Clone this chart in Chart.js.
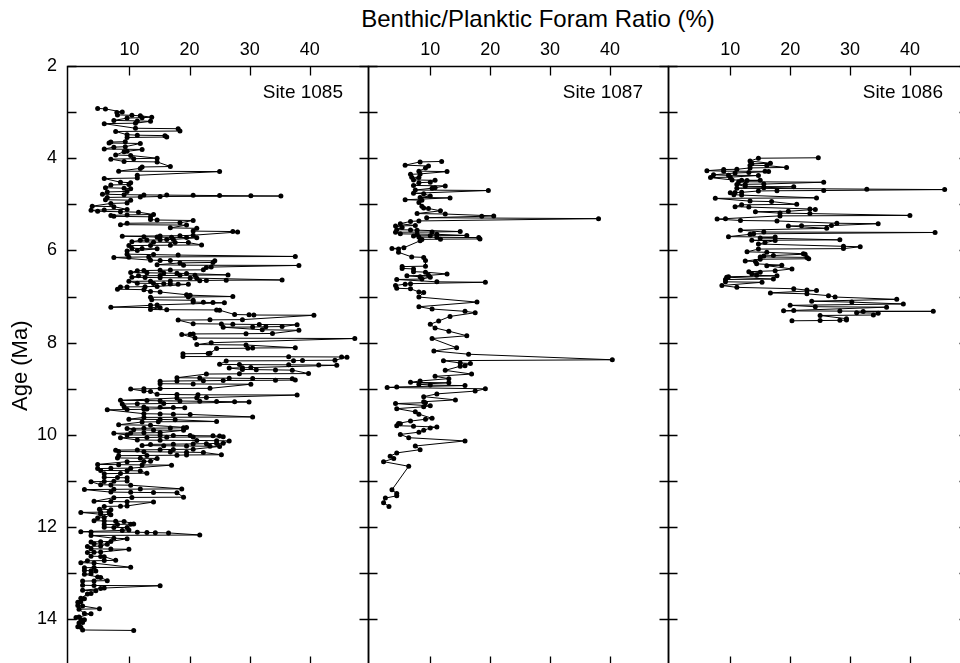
<!DOCTYPE html>
<html>
<head>
<meta charset="utf-8">
<script src="https://cdn.jsdelivr.net/npm/chart.js@4.4.1/dist/chart.umd.min.js"></script>
<style>
  html, body { margin: 0; padding: 0; background: #fff; }
  #wrap { position: relative; width: 960px; height: 663px; overflow: hidden; }
  .panel { position: absolute; top: 0; height: 668px; }
  #title { position: absolute; left: 338px; width: 400px; top: 7px; text-align: center;
           font: 24px "Liberation Sans", Arial, Helvetica, sans-serif; line-height: 1; color: #000; }
</style>
</head>
<body>
<div id="wrap">
  <div id="title">Benthic/Planktic Foram Ratio (%)</div>
  <div class="panel" style="left:0;width:372px"><canvas id="c1085"></canvas></div>
  <div class="panel" style="left:364px;width:308px"><canvas id="c1087"></canvas></div>
  <div class="panel" style="left:664px;width:308px"><canvas id="c1086"></canvas></div>
</div>
<script>
// ticks
const ratioTicks = [10, 20, 30, 40];
const ageTicks = [2, 3, 4, 5, 6, 7, 8, 9, 10, 11, 12, 13, 14, 15];
const ageLabels = [2, 4, 6, 8, 10, 12, 14];
const siteNames = ['Site 1085', 'Site 1087', 'Site 1086'];

// [age (Ma), B/P ratio (%)], in age order
const site1085 = [
 [2.92,4.7],[2.93,6.0],[3.00,8.8],[3.01,7.9],[3.06,8.0],[3.07,10.4],[3.08,11.8],
 [3.11,13.7],[3.12,12.1],[3.13,9.6],[3.18,7.4],[3.19,11.3],[3.20,13.5],[3.24,11.0],[3.25,5.8],
 [3.35,11.0],[3.36,18.1],[3.41,18.4],[3.42,7.7],[3.49,9.6],[3.50,11.3],[3.51,15.9],
 [3.54,16.2],[3.55,9.6],[3.64,9.3],[3.65,6.9],[3.67,6.6],[3.68,11.8],[3.75,9.3],[3.76,7.4],
 [3.80,5.8],[3.81,12.1],[3.85,9.6],[3.86,9.1],[3.93,7.7],[3.94,10.2],
 [4.00,14.6],[4.01,10.7],[4.02,6.9],[4.07,9.1],[4.08,14.6],[4.18,16.8],[4.19,12.1],[4.22,11.8],
 [4.28,8.2],[4.29,25.0],[4.37,11.3],[4.43,11.3],[4.44,5.8],[4.52,8.5],[4.53,10.2],
 [4.57,9.9],[4.58,6.9],[4.64,6.0],[4.65,9.1],[4.66,10.2],[4.72,9.6],[4.73,6.3],
 [4.78,5.5],[4.79,9.1],[4.795,12.4],[4.80,16.2],[4.805,20.6],[4.81,25.0],[4.815,30.2],[4.82,35.2],
 [4.83,15.1],[4.84,11.8],[4.85,6.3],[4.90,6.0],[4.91,10.2],[4.97,9.6],[4.98,6.9],
 [5.04,3.8],[5.05,7.4],[5.11,9.6],[5.12,5.8],[5.13,3.6],[5.15,4.7],[5.16,8.5],[5.17,11.5],
 [5.22,14.0],[5.23,9.6],[5.24,6.9],[5.26,7.4],[5.27,13.5],[5.33,13.5],[5.34,14.6],[5.35,20.6],
 [5.40,18.4],[5.41,9.6],[5.44,8.5],[5.45,19.5],[5.51,16.8],[5.52,21.2],
 [5.58,20.6],[5.59,27.2],[5.60,28.0],
 [5.67,20.6],[5.68,18.4],[5.685,15.1],[5.69,8.8],
 [5.70,12.4],[5.71,14.6],[5.715,17.0],[5.72,19.5],[5.725,21.2],
 [5.76,17.3],[5.765,16.2],[5.77,15.1],[5.775,12.9],[5.78,11.8],
 [5.81,10.4],[5.82,14.0],[5.825,17.6],[5.83,19.8],
 [5.88,22.0],[5.885,16.8],[5.89,13.5],[5.895,9.9],
 [5.95,10.4],[5.96,12.1],[5.965,14.6],[6.00,11.3],[6.01,9.6],
 [6.08,9.6],[6.09,14.0],[6.10,18.1],[6.13,37.6],[6.14,13.2],[6.145,9.9],[6.15,7.4],
 [6.21,13.5],[6.215,15.1],[6.22,16.8],[6.225,24.2],[6.26,23.9],[6.27,18.4],
 [6.31,14.6],[6.32,19.0],[6.325,38.2],[6.36,23.6],[6.37,22.8],
 [6.42,22.3],[6.425,16.8],[6.43,15.1],[6.435,12.4],[6.44,11.3],
 [6.48,10.2],[6.485,12.9],[6.49,15.7],[6.495,17.9],[6.50,19.5],
 [6.53,26.4],[6.535,20.9],[6.54,18.4],[6.545,15.1],[6.55,11.5],
 [6.58,10.4],[6.585,12.6],[6.59,15.1],[6.595,20.1],[6.60,21.2],
 [6.64,35.4],[6.645,26.1],[6.65,22.8],[6.655,21.7],[6.66,16.8],[6.665,13.5],[6.67,9.9],
 [6.71,11.3],[6.715,14.0],[6.72,15.7],[6.725,16.8],[6.73,18.1],[6.735,19.8],
 [6.78,14.6],[6.785,12.6],[6.79,9.6],[6.795,8.5],[6.84,8.0],[6.85,12.4],
 [6.89,13.5],[6.90,15.1],[6.96,19.5],[6.97,20.1],[7.00,27.2],[7.01,19.8],[7.015,13.5],
 [7.07,13.7],[7.08,20.6],[7.12,20.6],[7.125,22.3],[7.13,23.9],[7.135,25.8],
 [7.18,14.6],[7.19,13.5],[7.23,6.9],[7.24,15.1],
 [7.28,13.5],[7.285,16.2],[7.29,24.5],[7.295,25.0],
 [7.39,27.5],[7.395,29.9],[7.40,30.7],[7.405,40.7],
 [7.50,28.8],[7.505,23.4],[7.51,18.1],
 [7.59,20.6],[7.595,25.3],[7.60,27.2],[7.605,31.6],[7.61,37.9],
 [7.65,35.4],[7.655,32.7],[7.66,30.5],[7.665,25.6],[7.72,32.1],[7.73,38.2],
 [7.80,33.8],[7.805,29.4],[7.81,20.6],[7.815,20.1],[7.82,18.7],
 [7.90,20.9],[7.91,47.5],[8.00,23.6],[8.04,21.2],[8.05,29.4],
 [8.11,37.6],[8.115,30.5],[8.12,29.7],[8.125,24.5],
 [8.23,23.4],[8.235,23.1],[8.24,18.9],
 [8.30,18.9],[8.305,36.5],[8.31,45.3],[8.315,46.2],
 [8.38,44.2],[8.385,38.8],[8.39,37.3],[8.395,26.1],
 [8.47,25.0],[8.475,28.3],[8.48,36.5],[8.485,41.5],[8.49,44.5],
 [8.54,30.2],[8.545,28.8],[8.55,26.6],
 [8.58,28.8],[8.585,31.1],[8.59,34.3],[8.595,37.1],
 [8.67,39.8],[8.675,28.3],[8.68,22.8],
 [8.76,17.9],[8.765,21.7],[8.77,26.6],[8.775,30.5],[8.78,37.1],
 [8.81,37.6],[8.815,34.3],[8.82,25.6],[8.825,22.3],[8.83,17.9],[8.835,15.1],
 [8.89,15.1],[8.895,20.6],[8.90,30.2],
 [8.99,23.4],[8.995,15.1],[9.00,12.4],[9.005,10.2],[9.05,12.4],[9.06,13.5],
 [9.12,14.6],[9.125,17.9],[9.13,21.4],[9.135,37.9],[9.19,22.8],[9.195,21.2],[9.20,17.9],
 [9.25,8.5],[9.255,12.9],[9.26,15.1],[9.265,18.4],[9.27,21.7],[9.275,24.5],[9.28,27.5],[9.285,29.9],
 [9.32,15.7],[9.325,11.3],[9.33,8.8],
 [9.39,9.1],[9.395,12.4],[9.40,15.1],[9.405,17.3],[9.41,19.2],
 [9.44,12.9],[9.445,12.4],[9.45,9.6],[9.455,6.3],
 [9.54,12.4],[9.545,15.1],[9.55,17.3],[9.555,20.1],[9.61,30.5],[9.62,12.4],
 [9.66,9.9],[9.665,15.1],[9.67,17.6],[9.71,24.5],[9.715,14.8],[9.72,12.1],
 [9.78,8.2],[9.79,13.5],[9.84,19.5],[9.845,19.0],[9.85,16.8],[9.855,12.4],[9.86,9.6],
 [9.89,10.7],[9.895,14.0],[9.90,19.0],[9.95,15.1],[9.955,12.4],[9.96,10.2],[9.965,7.4],
 [10.00,9.6],[10.005,15.1],[10.01,17.3],[10.015,20.1],[10.02,23.9],[10.025,25.0],
 [10.04,25.6],[10.045,20.6],[10.05,16.2],[10.055,12.9],[10.06,8.5],
 [10.11,11.3],[10.115,15.1],[10.12,21.2],[10.125,24.5],[10.13,26.6],
 [10.18,25.6],[10.185,24.5],[10.19,22.8],[10.195,20.6],[10.20,17.3],[10.205,13.5],
 [10.23,12.1],[10.235,15.7],[10.24,19.5],[10.245,23.4],[10.25,25.0],
 [10.31,20.6],[10.315,17.3],[10.32,15.1],[10.325,11.3],[10.33,7.7],
 [10.36,8.2],[10.365,12.4],[10.37,16.8],[10.375,19.5],[10.38,22.3],
 [10.43,25.3],[10.435,19.5],[10.44,17.9],[10.445,12.9],[10.45,8.2],
 [10.50,8.0],[10.505,11.8],[10.51,14.6],[10.57,13.5],[10.575,12.4],[10.58,9.6],
 [10.64,4.7],[10.645,8.2],[10.65,12.1],[10.655,17.0],[10.72,10.2],[10.725,6.9],[10.73,4.7],
 [10.77,5.2],[10.775,9.6],[10.78,11.8],[10.83,12.9],[10.835,8.5],[10.84,5.8],
 [10.92,5.8],[10.925,8.0],[10.93,9.6],[11.00,9.6],[11.005,7.4],[11.01,5.8],[11.015,3.6],
 [11.08,5.2],[11.085,6.9],[11.09,10.2],[11.17,18.7],[11.175,11.8],[11.18,7.4],[11.185,2.5],
 [11.24,6.9],[11.245,10.2],[11.25,14.0],[11.255,17.9],[11.35,19.0],[11.355,10.4],[11.36,7.4],
 [11.44,4.1],[11.445,6.9],[11.45,9.6],[11.455,14.0],[11.54,9.6],[11.545,8.5],[11.55,5.8],
 [11.61,5.0],[11.62,6.9],[11.67,6.6],[11.675,5.2],[11.68,1.9],[11.72,5.2],[11.73,6.9],
 [11.79,5.8],[11.80,4.7],[11.86,4.1],[11.865,5.8],[11.87,7.7],[11.875,9.1],
 [11.93,10.7],[11.935,10.2],[11.94,8.0],[11.945,5.8],[12.00,5.8],[12.005,7.4],[12.01,9.6],
 [12.06,9.9],[12.07,8.8],[12.10,1.9],[12.105,3.6],[12.11,11.3],[12.115,12.9],[12.12,14.3],[12.125,16.5],
 [12.17,21.7],[12.18,3.6],[12.24,7.4],[12.25,9.6],[12.31,6.9],[12.315,5.2],[12.32,3.6],
 [12.36,4.1],[12.37,6.3],[12.41,5.2],[12.42,3.0],[12.47,3.6],[12.475,6.9],[12.48,9.9],
 [12.54,5.2],[12.545,4.1],[12.55,3.0],[12.63,3.6],[12.635,5.2],[12.64,5.8],
 [12.72,7.7],[12.725,5.8],[12.73,3.0],[12.77,1.9],[12.78,4.1],
 [12.87,10.2],[12.875,4.1],[12.88,2.5],[12.94,2.5],[12.945,3.6],[12.95,4.4],
 [13.01,3.6],[13.02,2.5],[13.08,4.7],[13.09,5.2],[13.16,6.3],[13.165,4.1],[13.17,2.2],
 [13.26,2.2],[13.265,4.1],[13.27,15.1],[13.32,5.8],[13.33,5.2],[13.37,2.2],[13.38,4.4],
 [13.44,3.6],[13.45,3.0],[13.54,1.9],[13.55,2.5],[13.62,1.9],[13.63,1.4],
 [13.70,1.4],[13.71,2.2],[13.77,5.0],[13.78,1.6],[13.87,2.5],[13.88,3.6],
 [13.95,1.6],[13.96,1.1],[14.00,1.9],[14.01,2.5],[14.07,2.2],[14.08,1.6],
 [14.16,1.4],[14.17,1.9],[14.23,2.2],[14.24,10.7]
];

const site1087 = [
 [4.07,11.9],[4.08,8.3],[4.15,5.8],[4.17,9.7],[4.21,9.2],
 [4.28,8.1],[4.29,12.8],[4.34,8.3],[4.35,6.7],[4.41,6.9],[4.42,8.1],[4.47,7.2],[4.48,10.8],
 [4.52,10.0],[4.53,8.1],[4.59,7.2],[4.60,12.5],[4.64,10.8],[4.65,10.3],[4.69,7.5],[4.70,19.7],
 [4.76,7.2],[4.77,8.9],[4.82,10.0],[4.85,8.3],[4.86,13.3],[4.90,5.8],[4.91,8.6],[4.96,8.1],
 [5.04,8.6],[5.08,8.9],[5.09,9.7],[5.14,11.7],[5.20,7.8],[5.21,12.5],[5.25,20.6],[5.26,18.6],
 [5.29,9.4],[5.31,38.1],[5.36,8.1],[5.37,6.7],[5.42,5.0],[5.46,7.5],[5.47,4.2],[5.50,5.3],
 [5.55,4.4],[5.555,6.7],[5.56,7.8],[5.59,15.0],[5.60,10.3],[5.605,4.2],
 [5.64,5.0],[5.645,7.8],[5.65,11.1],[5.675,16.1],[5.68,10.0],[5.685,7.2],
 [5.71,8.1],[5.715,11.1],[5.72,18.1],[5.75,18.3],[5.755,11.7],[5.76,8.6],
 [5.79,8.3],[5.94,5.6],[5.96,3.6],[5.97,4.7],[6.04,4.7],[6.14,6.9],[6.15,8.9],[6.22,9.2],
 [6.34,9.2],[6.35,5.3],[6.39,5.3],[6.40,7.2],[6.46,7.2],[6.47,9.2],[6.51,12.8],
 [6.54,9.7],[6.55,6.1],[6.57,8.3],[6.58,10.0],[6.62,8.6],[6.63,4.4],[6.68,11.1],[6.69,19.2],
 [6.72,6.7],[6.73,5.8],[6.76,4.2],[6.82,4.4],[6.83,6.7],[6.90,8.1],[6.91,8.9],[7.01,8.1],
 [7.12,17.8],[7.22,8.1],[7.27,10.3],[7.32,15.8],[7.35,17.5],[7.43,13.3],[7.53,11.4],
 [7.60,10.0],[7.68,10.8],[7.75,13.1],[7.85,16.1],[7.91,10.3],[8.11,14.4],[8.18,10.6],
 [8.25,16.4],[8.37,40.4],[8.39,12.2],[8.44,15.0],[8.45,16.7],[8.50,15.8],[8.51,15.0],
 [8.60,12.5],[8.68,16.9],[8.73,10.8],[8.78,13.1],[8.83,8.3],[8.86,6.7],[8.87,13.1],
 [8.90,8.1],[8.92,10.0],[8.93,15.8],[8.96,4.4],[8.97,2.8],[9.00,19.2],[9.05,17.5],
 [9.11,11.1],[9.17,8.9],[9.24,14.2],[9.28,8.9],[9.30,9.2],[9.32,4.2],[9.37,10.0],[9.39,8.9],
 [9.43,4.4],[9.50,7.5],[9.55,8.1],[9.64,10.3],[9.66,9.2],[9.70,6.7],[9.75,4.7],[9.76,5.0],
 [9.80,4.4],[9.81,7.2],[9.83,11.1],[9.85,10.0],[9.90,8.9],[9.94,8.1],[9.99,5.0],
 [10.06,6.4],[10.13,15.8],[10.24,7.5],[10.32,8.3],[10.39,4.4],[10.46,3.3],[10.51,3.9],
 [10.58,2.2],[10.68,6.4],[11.19,3.6],[11.27,4.4],[11.32,4.4],[11.37,2.5],[11.47,2.2],[11.55,3.1]
];

const site1086 = [
 [3.99,24.7],[4.00,14.7],[4.06,13.3],[4.11,16.7],[4.12,13.6],[4.15,13.3],[4.16,16.1],
 [4.20,19.4],[4.21,13.3],[4.24,11.1],[4.245,8.9],[4.27,6.1],[4.28,8.9],[4.285,15.8],[4.29,16.4],
 [4.31,13.1],[4.32,10.8],[4.36,7.2],[4.37,9.7],[4.375,14.7],[4.41,10.0],[4.42,6.7],
 [4.47,10.3],[4.475,11.9],[4.48,15.0],[4.485,12.8],[4.51,11.4],[4.52,25.6],
 [4.56,15.6],[4.565,12.5],[4.57,11.1],[4.61,12.5],[4.62,20.6],[4.64,15.6],[4.65,11.1],
 [4.67,32.8],[4.68,45.8],[4.70,25.6],[4.705,17.8],[4.71,14.7],
 [4.74,11.9],[4.745,10.8],[4.75,10.0],[4.79,10.6],[4.80,11.9],[4.86,24.4],[4.87,7.5],
 [4.93,13.3],[4.94,16.9],[5.00,21.1],[5.01,11.9],[5.05,10.8],[5.06,13.1],
 [5.10,23.3],[5.11,24.2],[5.15,19.7],[5.16,14.2],[5.19,18.3],[5.20,23.3],[5.24,40.0],[5.25,18.3],
 [5.31,9.2],[5.32,7.8],[5.35,11.7],[5.36,17.8],[5.41,27.8],[5.42,34.7],
 [5.46,26.9],[5.465,21.9],[5.47,19.7],[5.52,26.1],[5.56,11.7],[5.60,15.6],[5.61,44.2],
 [5.64,13.9],[5.65,13.3],[5.70,9.7],[5.71,17.5],[5.73,15.0],[5.77,28.3],[5.78,13.6],[5.785,17.5],
 [5.83,15.8],[5.86,14.7],[5.91,28.9],[5.92,31.7],[5.96,28.9],[5.97,14.7],
 [6.03,12.8],[6.04,16.1],[6.07,22.2],[6.08,22.5],[6.11,17.2],[6.12,15.6],[6.14,15.0],[6.15,22.8],
 [6.18,23.1],[6.19,15.0],[6.23,12.5],[6.24,14.2],[6.29,14.4],[6.32,18.6],[6.33,16.1],
 [6.40,20.3],[6.44,17.5],[6.46,13.1],[6.47,15.0],[6.51,13.6],[6.54,14.4],[6.55,17.8],
 [6.57,9.7],[6.58,9.4],[6.62,17.2],[6.63,9.2],[6.68,9.2],[6.69,15.3],[6.76,8.6],[6.80,11.1],
 [6.83,20.6],[6.86,22.8],[6.87,24.4],[6.92,16.7],[6.94,22.8],[6.98,26.4],[7.01,27.5],
 [7.06,37.8],[7.10,23.6],[7.12,30.3],[7.16,38.9],[7.19,20.0],[7.22,24.2],[7.23,36.1],[7.30,20.6],
 [7.31,18.9],[7.315,28.3],[7.32,43.9],[7.325,32.2],[7.35,31.1],[7.36,34.7],[7.40,33.9],
 [7.41,25.0],[7.48,29.4],[7.51,29.4],[7.515,28.3],[7.52,25.0],[7.525,20.3]
];

const FONT = '"Liberation Sans", Arial, Helvetica, sans-serif';
const TICK = 9;

// border + inward ticks on all four sides, plus the site label
const framePlugin = {
  id: 'frame',
  afterDraw(chart, args, opts) {
    const { ctx, chartArea: a, scales: { x, y } } = chart;
    const L = Math.floor(a.left) + 0.5, R = Math.floor(a.right) + 0.5;
    const T = Math.floor(a.top) + 0.5, B = Math.floor(a.bottom) + 0.5;
    ctx.save();
    ctx.strokeStyle = '#000';
    ctx.lineWidth = 1.5;
    ctx.strokeRect(L, T, R - L, B - T);
    ctx.lineWidth = 1.3;
    ctx.beginPath();
    ratioTicks.forEach(v => {
      const px = Math.round(x.getPixelForValue(v)) + 0.5;
      ctx.moveTo(px, T); ctx.lineTo(px, T + TICK);
      ctx.moveTo(px, B); ctx.lineTo(px, B - TICK);
    });
    ageTicks.forEach(v => {
      const py = Math.round(y.getPixelForValue(v)) + 0.5;
      ctx.moveTo(L, py); ctx.lineTo(L + TICK, py);
      ctx.moveTo(R, py); ctx.lineTo(R - TICK, py);
    });
    ctx.stroke();
    ctx.fillStyle = '#000';
    ctx.font = '19px ' + FONT;
    ctx.textAlign = 'right';
    ctx.textBaseline = 'middle';
    ctx.fillText(opts.site, a.right - 25, a.top + 27);
    ctx.restore();
  }
};

function makePanel(id, data, site, first) {
  const yScale = {
    type: 'linear', reverse: true, min: 2, max: 15,
    display: first,
    afterBuildTicks: s => { s.ticks = ageTicks.map(v => ({ value: v })); },
    grid: { display: false, drawTicks: false }, border: { display: false },
    ticks: {
      color: '#000', padding: 10, font: { size: 18, family: FONT },
      callback: v => ageLabels.includes(v) ? String(v) : ''
    },
    title: {
      display: true, text: 'Age (Ma)', color: '#000',
      font: { size: 22, family: FONT }, padding: { top: 8, bottom: 0 }
    }
  };
  if (first) yScale.afterFit = s => { s.width = 67; s.paddingTop = 0; s.paddingBottom = 0; };

  return new Chart(document.getElementById(id), {
    type: 'scatter',
    data: {
      datasets: [{
        data: data.map(([age, r]) => ({ x: r, y: age })),
        showLine: true,
        borderColor: '#000',
        borderWidth: 1,
        pointRadius: 2.5,
        pointBackgroundColor: '#000',
        pointBorderWidth: 0,
        pointHoverRadius: 2.5
      }]
    },
    options: {
      responsive: true,
      maintainAspectRatio: false,
      animation: false,
      events: [],
      layout: { padding: { left: first ? 0 : 4, right: 4, top: 0, bottom: 2 } },
      plugins: { legend: { display: false }, tooltip: { enabled: false }, frame: { site } },
      scales: {
        x: {
          type: 'linear', position: 'top', min: -0.4, max: 49.7,
          afterBuildTicks: s => { s.ticks = ratioTicks.map(v => ({ value: v })); },
          afterFit: s => { s.height = 66; s.paddingLeft = 0; s.paddingRight = 0; },
          grid: { display: false, drawTicks: false }, border: { display: false },
          ticks: { color: '#000', padding: 5, maxRotation: 0, autoSkip: false,
                   font: { size: 18, family: FONT } }
        },
        y: yScale
      }
    },
    plugins: [framePlugin]
  });
}

makePanel('c1085', site1085, siteNames[0], true);
makePanel('c1087', site1087, siteNames[1], false);
makePanel('c1086', site1086, siteNames[2], false);
</script>
</body>
</html>
